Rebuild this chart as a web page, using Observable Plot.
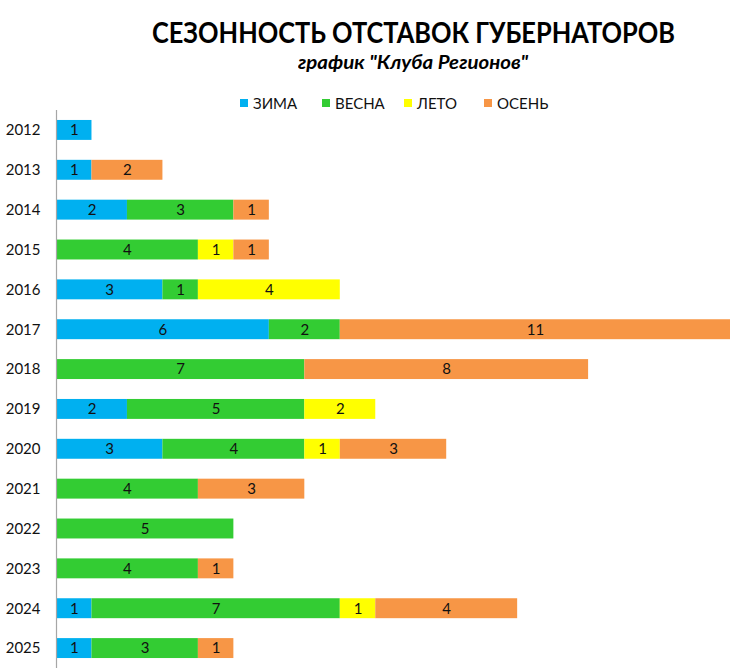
<!DOCTYPE html>
<html>
<head>
<meta charset="utf-8">
<script src="https://cdn.jsdelivr.net/npm/d3@7"></script>
<script src="https://cdn.jsdelivr.net/npm/@observablehq/plot@0.6"></script>
<style>
  body { margin: 0; background: #fff; }
  #wrap { position: relative; width: 750px; height: 671px; overflow: hidden; font-family: Lato, "Open Sans", sans-serif; }
  .head { position: absolute; left: 0; white-space: nowrap; transform-origin: 0 50%; color: #000; font-family: Lato, sans-serif; font-weight: bold; }
  #title { top: 14px; font-size: 29px; }
  #subtitle { top: 50px; font-size: 19px; font-style: italic; }
  #legend { position: absolute; top: 94px; left: 0; width: 750px; height: 18px; font-family: Lato, sans-serif; font-size: 15px; color: #111; }
  .li { position: absolute; top: 0; display: flex; align-items: center; gap: 5px; }
  .sw { width: 8px; height: 8px; display: inline-block; }
  #chart { position: absolute; top: 110px; left: 0; }
</style>
</head>
<body>
<div id="wrap">
  <div id="title" class="head">СЕЗОННОСТЬ ОТСТАВОК ГУБЕРНАТОРОВ</div>
  <div id="subtitle" class="head">график "Клуба Регионов"</div>
  <div id="legend"></div>
  <div id="chart"></div>
</div>
<script>
const years = ["2012","2013","2014","2015","2016","2017","2018","2019","2020","2021","2022","2023","2024","2025"];
const seasons = ["ЗИМА","ВЕСНА","ЛЕТО","ОСЕНЬ"];
const colors = ["#00B0F0","#33CC33","#FFFF00","#F79646"];
const winter = [1,1,2,0,3,6,0,2,3,0,0,0,1,1];
const spring = [0,0,3,4,1,2,7,5,4,4,5,4,7,3];
const summer = [0,0,0,1,4,0,0,2,1,0,0,0,1,0];
const autumn = [0,2,1,1,0,11,8,0,3,3,0,1,4,1];
const legendX = [240, 322, 404, 484];

// fit header text to reference extents
function fit(id, left, width) {
  const el = document.getElementById(id);
  const w = el.getBoundingClientRect().width;
  el.style.left = left + "px";
  el.style.transform = `scaleX(${width / w})`;
}
fit("title", 152, 523);
fit("subtitle", 298, 230);

const series = [winter, spring, summer, autumn];
const data = [];
seasons.forEach((s, si) => {
  years.forEach((y, yi) => {
    const v = series[si][yi];
    if (v > 0) data.push({year: y, season: s, value: v});
  });
});

const legend = document.getElementById("legend");
seasons.forEach((s, i) => {
  const d = document.createElement("div");
  d.className = "li";
  d.style.left = legendX[i] + "px";
  d.innerHTML = `<span class="sw" style="background:${colors[i]}"></span><span>${s}</span>`;
  legend.appendChild(d);
});

const chart = Plot.plot({
  width: 750,
  height: 561,
  marginLeft: 56,
  marginRight: 20,
  marginTop: 0,
  marginBottom: 3,
  style: {fontFamily: "Lato, 'Open Sans', sans-serif", fontSize: "15px", color: "#111"},
  x: {domain: [0, 19], axis: null},
  y: {domain: years, paddingInner: 0.5, paddingOuter: 0.25, round: false, label: null, tickSize: 0, tickPadding: 16},
  color: {domain: seasons, range: colors},
  marks: [
    Plot.barX(data, Plot.stackX({x: "value", y: "year", fill: "season", order: seasons})),
    Plot.textX(data, Plot.stackX({x: "value", y: "year", z: "season", order: seasons, text: d => String(d.value), fill: "#111", fontSize: 15})),
    Plot.ruleX([0], {stroke: "#a6a6a6", strokeWidth: 1.2})
  ]
});
document.getElementById("chart").appendChild(chart);
</script>
</body>
</html>
